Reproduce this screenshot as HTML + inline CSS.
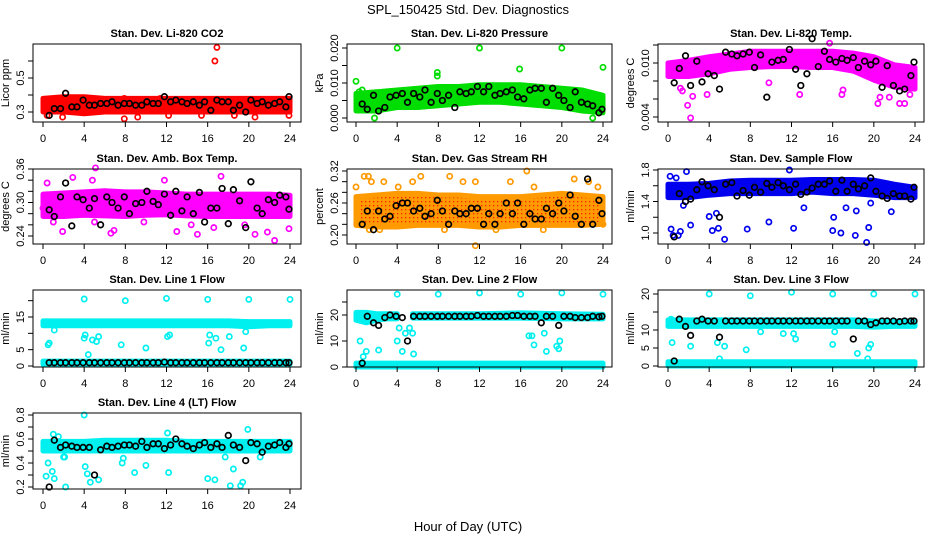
<!DOCTYPE html>
<html><head><meta charset="utf-8"><style>
html,body{margin:0;padding:0;background:#fff;}
svg{display:block;font-family:"Liberation Sans",sans-serif;}
</style></head><body>
<svg id="chart" width="936" height="540" viewBox="0 0 936 540" xmlns="http://www.w3.org/2000/svg">
<defs>
<pattern id="rhpat" width="4" height="4" patternUnits="userSpaceOnUse">
<rect width="4" height="4" fill="#ff9a00"/>
<rect x="1" y="1" width="1.3" height="1.3" fill="#ff2000"/>
</pattern>
</defs>
<text x="468" y="14" text-anchor="middle" font-size="13">SPL_150425  Std. Dev. Diagnostics</text>
<text x="468" y="531" text-anchor="middle" font-size="13">Hour of Day (UTC)</text>
</svg>
<script>
// shared x data
const xTicks = [0,4,8,12,16,20,24];
const blackHours = [0.6,1.1,1.7,2.2,2.8,3.3,3.9,4.5,5.0,5.6,6.2,6.7,7.3,7.9,8.4,9.0,9.6,10.1,10.7,11.2,11.8,12.4,12.9,13.5,14.0,14.6,15.2,15.7,16.3,16.9,17.4,18.0,18.5,19.1,19.7,20.2,20.8,21.3,21.9,22.5,23.0,23.6,23.9];
const bandHours = [0,2,4,6,8,10,12,14,16,18,20,22,24];

// panel 1 CO2
const co2Black = [0.28,0.32,0.32,0.41,0.33,0.33,0.37,0.34,0.34,0.35,0.35,0.36,0.34,0.35,0.35,0.34,0.34,0.36,0.35,0.35,0.39,0.36,0.37,0.36,0.35,0.36,0.34,0.36,0.31,0.37,0.36,0.36,0.31,0.34,0.30,0.37,0.35,0.36,0.34,0.35,0.36,0.33,0.39];
const co2Lo = [0.30,0.30,0.29,0.30,0.30,0.30,0.30,0.30,0.30,0.30,0.30,0.30,0.30];
const co2Hi = [0.38,0.39,0.39,0.38,0.38,0.38,0.38,0.38,0.38,0.38,0.38,0.38,0.38];
const co2OutH = [16.7,16.9,7.9,6.8,15.1,14.6,0.4,1.9,7.9,9.2,12.2,15.4,20.6,23.9,11.4,13.2,18.6];
const co2OutV = [0.60,0.68,0.38,0.37,0.375,0.37,0.28,0.27,0.26,0.27,0.28,0.28,0.27,0.28,0.38,0.37,0.28];
// panel 2 pressure
const presBlack = [0.004,0.0025,0.0065,0.002,0.003,0.006,0.0065,0.007,0.0045,0.007,0.006,0.008,0.0045,0.007,0.005,0.0065,0.003,0.0075,0.007,0.0075,0.009,0.0075,0.009,0.0065,0.007,0.0075,0.008,0.006,0.0055,0.008,0.0085,0.0085,0.0045,0.0085,0.0065,0.005,0.003,0.0075,0.0045,0.004,0.0035,0.0015,0.0025];
const presLo = [0.002,0.002,0.003,0.003,0.0035,0.004,0.0045,0.0045,0.004,0.0035,0.003,0.002,0.0015];
const presHi = [0.007,0.0075,0.008,0.0085,0.009,0.009,0.0095,0.0095,0.0095,0.009,0.0085,0.008,0.0065];
const presOutH = [0,0.3,0.6,4,12,20,24,15.9,7.9,7.9,1.8,23];
const presOutV = [0.0105,0.0075,0.008,0.020,0.020,0.020,0.0145,0.014,0.013,0.012,0,0];
// panel 3 Li-820 temp
const tempBlack = [0.0078,0.0094,0.0108,0.0075,0.0102,0.0079,0.0088,0.0086,0.0071,0.0112,0.011,0.0108,0.011,0.0112,0.0095,0.0109,0.0062,0.0101,0.0103,0.0104,0.0115,0.0093,0.0075,0.0088,0.0127,0.0096,0.0113,0.0104,0.0101,0.0105,0.0103,0.0106,0.0095,0.0102,0.0098,0.0102,0.0073,0.0097,0.0075,0.0069,0.0071,0.0086,0.0101];
const tempLo = [0.0085,0.0085,0.0088,0.0093,0.0095,0.0096,0.0096,0.0095,0.0095,0.0091,0.0081,0.0073,0.0071];
const tempHi = [0.0100,0.0103,0.0107,0.0110,0.0113,0.0113,0.0113,0.0113,0.0113,0.0111,0.0107,0.0098,0.0095];
const tempOutH = [1.9,2.2,2.4,1.2,1.4,15.7,20.4,20.6,21.5,22.5,23.0,23.5,3.8,16.9,17,9.8,12.8];
const tempOutV = [0.0053,0.0039,0.0063,0.0072,0.0069,0.0122,0.0055,0.0062,0.0062,0.0055,0.0055,0.0065,0.0065,0.0065,0.007,0.0078,0.0065];
// panel 4 amb box temp
const boxBlack = [0.287,0.275,0.31,0.335,0.258,0.31,0.305,0.29,0.307,0.26,0.31,0.30,0.29,0.31,0.28,0.298,0.30,0.32,0.302,0.296,0.315,0.277,0.32,0.285,0.31,0.28,0.318,0.265,0.29,0.29,0.325,0.262,0.323,0.303,0.255,0.337,0.29,0.28,0.305,0.30,0.313,0.31,0.288];
const boxLo = [0.275,0.275,0.277,0.276,0.275,0.277,0.278,0.276,0.275,0.275,0.275,0.275,0.275];
const boxHi = [0.315,0.317,0.319,0.321,0.319,0.319,0.317,0.315,0.315,0.315,0.315,0.315,0.313];
const boxOutH = [0.4,0.0,1.9,2.9,4.8,5.0,6.6,6.9,9.8,11.8,13.0,15.0,16.6,17.3,19.6,20.6,21.8,22.5,23.9,5.1,1.0,14.4];
const boxOutV = [0.335,0.29,0.248,0.345,0.34,0.265,0.245,0.25,0.265,0.34,0.248,0.243,0.255,0.347,0.26,0.243,0.247,0.232,0.253,0.362,0.265,0.26];
// panel 5 RH
const rhBlack = [0.22,0.245,0.21,0.245,0.23,0.235,0.255,0.26,0.26,0.245,0.25,0.235,0.24,0.265,0.245,0.22,0.245,0.24,0.24,0.25,0.25,0.22,0.24,0.22,0.24,0.26,0.24,0.26,0.22,0.24,0.23,0.23,0.25,0.24,0.26,0.245,0.275,0.235,0.22,0.305,0.22,0.265,0.24];
const rhLo = [0.218,0.215,0.215,0.218,0.218,0.218,0.215,0.215,0.218,0.218,0.218,0.218,0.22];
const rhHi = [0.272,0.275,0.278,0.278,0.275,0.275,0.272,0.272,0.272,0.275,0.278,0.275,0.272];
const rhOutH = [0,0.8,1.2,1.5,2.7,4.1,5.5,6.3,8.6,9.1,10.4,11.6,15.0,16.6,17.3,17.1,18.2,21.2,22.6,23.5,24,0.3,1.3,2.3,11.6,13.6];
const rhOutV = [0.29,0.31,0.31,0.30,0.30,0.29,0.30,0.31,0.21,0.31,0.30,0.18,0.30,0.32,0.29,0.22,0.21,0.305,0.3,0.29,0.22,0.22,0.21,0.21,0.30,0.21];
// panel 6 sample flow
const sfBlack = [0.95,1.5,1.4,1.43,1.55,1.65,1.6,1.55,1.2,1.62,1.64,1.47,1.54,1.48,1.58,1.52,1.63,1.58,1.64,1.6,1.55,1.62,1.49,1.52,1.57,1.62,1.62,1.66,1.53,1.67,1.53,1.62,1.56,1.6,1.7,1.53,1.47,1.44,1.5,1.47,1.47,1.43,1.58];
const sfLo = [1.45,1.45,1.48,1.5,1.5,1.5,1.5,1.52,1.5,1.5,1.48,1.45,1.45];
const sfHi = [1.62,1.62,1.63,1.66,1.67,1.67,1.67,1.68,1.68,1.68,1.67,1.62,1.58];
const sfOutH = [0.2,0.3,0.5,1.0,1.2,1.8,2.2,4.0,4.3,4.7,4.9,5.5,7.7,9.8,12.2,13.2,16.0,16.1,16.8,17.3,18.2,18.3,19.3,19.5,19.7,21.7,11.8,1.5,0.8];
const sfOutV = [1.72,1.05,0.97,0.97,1.02,1.78,1.1,1.21,1.03,1.25,1.06,0.92,1.05,1.14,1.06,1.32,1.03,1.2,1.0,1.32,0.97,1.28,0.88,1.07,1.38,1.27,1.8,1.35,1.7];
// panel 7 line 1
const l1Black = [1,1,1,1,1,1,1,1,1,1,1,1,1,1,1,1,1,1,1,1,1.2,1,1,1,1,1,1,1,1,1,1,1,1,1,1,1,1,1,1,1,1,1,1];
const l1Lo = [12.3,12.3,12.3,12.3,12.3,12.3,12.3,12.3,12.3,12.3,12.0,12.3,12.3];
const l1Hi = [13.8,13.8,13.8,13.8,13.8,13.8,13.8,13.8,13.8,13.8,13.6,13.6,13.6];
const l1LowLo = [0.5,0.5,0.5,0.5,0.5,0.5,0.5,0.5,0.5,0.5,0.5,0.5,0.5];
const l1LowHi = [1.5,1.5,1.5,1.5,1.5,1.5,1.5,1.5,1.5,1.5,1.5,1.5,1.5];
const l1OutH = [4,8,12,16,20,24,0.5,1.1,0.6,4,4.1,4.4,4.8,5.2,5.4,7.6,10,12.1,12.3,16.1,16.2,16.8,17.3,18.1,19.5,19.7];
const l1OutV = [20.5,20,20.7,20.4,20.4,20.4,6.5,11,7,8.5,9.5,3.5,8,7.5,9,6.5,5.5,9,9.5,7,9.5,8.5,5,9,5.5,10.5];
// panel 8 line 2
const l2Black = [1.5,19.5,17,16,19,20,19.5,19,10,19.5,19.5,19.5,19.5,19.5,19.5,19.5,19.5,19.5,19.5,19.5,19.8,19.5,19.5,19.5,19.5,19.5,19.8,19.8,19.5,19.5,19.5,17,19.5,19.5,16,19.5,19.5,19,19,19,19.5,19.3,19.5];
const l2HoursA = [0,1,2,3,4];
const l2LoA = [18,17,18,18.5,18.5];
const l2HiA = [21,21,20.5,20.5,20.5];
const l2HoursB = [5.5,8,12,16,20,24];
const l2LoB = [18.8,18.8,18.8,18.8,18.5,18.5];
const l2HiB = [20.5,20.5,20.5,20.8,20.5,20.3];
const l2LowLo = [0,0,0,0,0,0,0,0,0,0,0,0,0];
const l2LowHi = [1.5,1.5,1.5,1.5,1.5,1.5,1.5,1.5,1.5,1.5,1.5,1.5,1.5];
const l2OutH = [4,8,12,16,20,24,0.4,0.7,1.0,2.2,4.0,4.2,4.5,4.8,5.2,5.6,5.5,17.1,17.3,18.3,18.5,19.5,19.7,19.8,16.8];
const l2OutV = [28,28,28.5,28,28.5,28,10,4,6,6.5,10,15,6,13,15,5,13,12,8.5,13,6,8,7,10,12];
// panel 9 line 3
const l3Black = [1.4,13,11,8.5,12.5,13,12.5,12.5,8,12.5,12.5,12.5,12.5,12.5,12.5,12.5,12.5,12.5,12.5,12.5,12.5,12.5,12.5,12.5,12.5,12.5,12.5,12.5,12.5,12.5,12.5,7.5,12.5,12.5,11.5,12,12.5,12.5,12.5,12.3,12.5,12.5,12.5];
const l3Lo = [11,11,11,11,11,11,11,11,11,11,10.8,11,11];
const l3Hi = [12.8,12.8,12.8,12.8,12.8,12.8,12.8,12.8,12.8,12.8,12.5,12.5,12.5];
const l3LowLo = [0,0,0,0,0,0,0,0,0,0,0,0,0];
const l3LowHi = [1.2,1.2,1.2,1.2,1.2,1.2,1.2,1.2,1.2,1.2,1.2,1.2,1.2];
const l3OutH = [4,8,12,16,20,24,0.4,2.2,4.8,5.0,5.5,7.6,9.0,11.2,12.2,12.4,16.0,16.2,18.4,19.4,19.5,19.7,0.3];
const l3OutV = [20,19.5,20.5,20,20,20,6.5,5.5,6.5,2,5.5,4.5,9.5,9,9,7.5,6,9.5,3.5,2,5,6,13];
// panel 10 line 4
const l4Black = [0.2,0.59,0.53,0.55,0.54,0.53,0.53,0.53,0.30,0.51,0.54,0.53,0.54,0.55,0.55,0.54,0.58,0.53,0.56,0.56,0.52,0.55,0.6,0.56,0.54,0.52,0.55,0.57,0.53,0.56,0.53,0.63,0.55,0.53,0.42,0.57,0.56,0.49,0.54,0.55,0.57,0.53,0.56];
const l4Lo = [0.50,0.50,0.50,0.50,0.50,0.50,0.50,0.50,0.50,0.50,0.50,0.50,0.50];
const l4Hi = [0.58,0.58,0.58,0.59,0.59,0.59,0.59,0.58,0.58,0.58,0.58,0.58,0.58];
const l4OutH = [0.3,0.5,0.9,1.1,1.5,2.1,2.2,4.0,4.1,4.3,4.6,5.4,7.7,7.8,8.9,10.0,12.1,12.2,16.0,16.7,17.7,18.2,18.5,19.2,19.4,19.9,21.1,1.0,11.8,2.0];
const l4OutV = [0.29,0.40,0.33,0.27,0.62,0.45,0.20,0.80,0.37,0.31,0.24,0.26,0.40,0.44,0.32,0.38,0.65,0.32,0.27,0.26,0.45,0.21,0.35,0.21,0.24,0.68,0.45,0.64,0.55,0.45];

const NS = "http://www.w3.org/2000/svg";
const svg = document.getElementById('chart');
const cols = [{L:33,R:301,x0:43,x24:290},{L:347,R:612,x0:356,x24:603},{L:658,R:924,x0:668,x24:915}];
const rows = [{T:44,B:122},{T:169,B:244},{T:290,B:367},{T:413,B:489}];

const panels = [
 {name:'co2',title:'Stan. Dev. Li-820 CO2',ylab:'Licor ppm',c:0,r:0,v1:0.3,p1:112,v2:0.5,p2:78,ticks:[0.3,0.4,0.5,0.6],labels:['0.3','','0.5',''],color:'#ff0000',
  bands:[[bandHours,co2Lo,co2Hi]],outH:co2OutH,outV:co2OutV,black:co2Black},
 {name:'pressure',title:'Stan. Dev. Li-820 Pressure',ylab:'kPa',c:1,r:0,v1:0,p1:118,v2:0.02,p2:48,ticks:[0,0.005,0.01,0.015,0.02],labels:['0.000','','0.010','','0.020'],color:'#00dd00',
  bands:[[bandHours,presLo,presHi]],outH:presOutH,outV:presOutV,black:presBlack},
 {name:'li820-temp',title:'Stan. Dev. Li-820 Temp.',ylab:'degrees C',c:2,r:0,v1:0.004,p1:117,v2:0.010,p2:63,ticks:[0.004,0.006,0.008,0.010,0.012],labels:['0.004','','','0.010',''],color:'#ff00ff',
  bands:[[bandHours,tempLo,tempHi]],outH:tempOutH,outV:tempOutV,black:tempBlack},
 {name:'amb-box-temp',title:'Stan. Dev. Amb. Box Temp.',ylab:'degrees C',c:0,r:1,v1:0.24,p1:236,v2:0.36,p2:169,ticks:[0.24,0.26,0.28,0.30,0.32,0.34,0.36],labels:['0.24','','','0.30','','','0.36'],color:'#ff00ff',
  bands:[[bandHours,boxLo,boxHi]],outH:boxOutH,outV:boxOutV,black:boxBlack},
 {name:'gas-rh',title:'Stan. Dev. Gas Stream RH',ylab:'percent',c:1,r:1,v1:0.20,p1:235,v2:0.32,p2:171,ticks:[0.20,0.22,0.24,0.26,0.28,0.30,0.32],labels:['0.20','','','0.26','','','0.32'],color:'#ff9a00',fill:'url(#rhpat)',
  bands:[[bandHours,rhLo,rhHi]],outH:rhOutH,outV:rhOutV,black:rhBlack},
 {name:'sample-flow',title:'Stan. Dev. Sample Flow',ylab:'ml/min',c:2,r:1,v1:1.0,p1:233,v2:1.8,p2:170,ticks:[1.0,1.2,1.4,1.6,1.8],labels:['1.0','','1.4','','1.8'],color:'#0000ee',
  bands:[[bandHours,sfLo,sfHi]],outH:sfOutH,outV:sfOutV,black:sfBlack},
 {name:'line1-flow',title:'Stan. Dev. Line 1 Flow',ylab:'ml/min',c:0,r:2,v1:0,p1:366,v2:15,p2:317,ticks:[0,5,10,15,20],labels:['0','5','','15',''],color:'#00f0f0',
  bands:[[bandHours,l1Lo,l1Hi],[bandHours,l1LowLo,l1LowHi]],outH:l1OutH,outV:l1OutV,black:l1Black},
 {name:'line2-flow',title:'Stan. Dev. Line 2 Flow',ylab:'ml/min',c:1,r:2,v1:0,p1:367,v2:20,p2:315,ticks:[0,10,20,25],labels:['0','10','20',''],color:'#00f0f0',
  bands:[[l2HoursA,l2LoA,l2HiA],[l2HoursB,l2LoB,l2HiB],[bandHours,l2LowLo,l2LowHi]],outH:l2OutH,outV:l2OutV,black:l2Black},
 {name:'line3-flow',title:'Stan. Dev. Line 3 Flow',ylab:'ml/min',c:2,r:2,v1:0,p1:366,v2:20,p2:294,ticks:[0,5,10,15,20],labels:['0','5','10','','20'],color:'#00f0f0',
  bands:[[bandHours,l3Lo,l3Hi],[bandHours,l3LowLo,l3LowHi]],outH:l3OutH,outV:l3OutV,black:l3Black},
 {name:'line4-flow',title:'Stan. Dev. Line 4 (LT) Flow',ylab:'ml/min',c:0,r:3,v1:0.2,p1:487,v2:0.8,p2:415,ticks:[0.2,0.3,0.4,0.5,0.6,0.7,0.8],labels:['0.2','','0.4','','0.6','','0.8'],color:'#00f0f0',
  bands:[[bandHours,l4Lo,l4Hi]],outH:l4OutH,outV:l4OutV,black:l4Black}
];

function mk(tag, attrs, parent){
  const e = document.createElementNS(NS, tag);
  for (const k in attrs) e.setAttribute(k, attrs[k]);
  (parent||svg).appendChild(e);
  return e;
}

panels.forEach(p => {
  const col = cols[p.c], row = rows[p.r];
  const xs = h => col.x0 + (col.x24 - col.x0) * h / 24;
  const ys = v => p.p1 + (p.p2 - p.p1) * (v - p.v1) / (p.v2 - p.v1);
  const g = mk('g', {});
  
  
  const t = mk('text', {x:(col.L+col.R)/2, y:row.T-7, 'text-anchor':'middle', 'font-size':'11', 'font-weight':'bold'}, g);
  t.textContent = p.title;
  
  
  p.bands.forEach(b => {
    const hrs = b[0], lo = b[1], hi = b[2];
    let pts = [];
    for (let i=0;i<hrs.length;i++) pts.push(xs(hrs[i]).toFixed(1)+','+ys(lo[i]).toFixed(1));
    for (let i=hrs.length-1;i>=0;i--) pts.push(xs(hrs[i]).toFixed(1)+','+ys(hi[i]).toFixed(1));
    const poly = mk('polygon', {points:pts.join(' '), fill:p.fill||p.color, stroke:p.color, 'stroke-width':'5', 'stroke-linejoin':'round'}, g);
    
    
  });
  for (let i=0;i<p.outH.length;i++){
    const c = mk('circle', {cx:xs(p.outH[i]).toFixed(1), cy:ys(p.outV[i]).toFixed(1), r:'2.6', fill:'none', stroke:p.color, 'stroke-width':'1.7'}, g);
    
    
  }
  for (let i=0;i<blackHours.length;i++){
    const c = mk('circle', {cx:xs(blackHours[i]).toFixed(1), cy:ys(p.black[i]).toFixed(1), r:'2.8', fill:'none', stroke:'#000', 'stroke-width':'1.7'}, g);
    
    
  }
  const box = mk('rect', {x:col.L, y:row.T, width:col.R-col.L, height:row.B-row.T, fill:'none', stroke:'#000', 'stroke-width':'1'}, g);
  
  
  xTicks.forEach(h => {
    const x = xs(h);
    const tk = mk('line', {x1:x, x2:x, y1:row.B, y2:row.B+5, stroke:'#000'}, g);
    
    
    const lb = mk('text', {x:x, y:row.B+20, 'text-anchor':'middle', 'font-size':'11'}, g);
    lb.textContent = String(h);
    
    
  });
  p.ticks.forEach((v,i) => {
    const y = ys(v);
    const tk = mk('line', {x1:col.L-5, x2:col.L, y1:y, y2:y, stroke:'#000'}, g);
    
    
    if (p.labels[i]) {
      const lb = mk('text', {x:0, y:0, 'text-anchor':'middle', 'font-size':'11', transform:'translate('+(col.L-9)+','+y.toFixed(1)+') rotate(-90)'}, g);
      lb.textContent = p.labels[i];
      
      
    }
  });
  const yl = mk('text', {x:0, y:0, 'text-anchor':'middle', 'font-size':'11', transform:'translate('+(col.L-24)+','+((row.T+row.B)/2)+') rotate(-90)'}, g);
  yl.textContent = p.ylab;
  
  
});
</script>
</body></html>
